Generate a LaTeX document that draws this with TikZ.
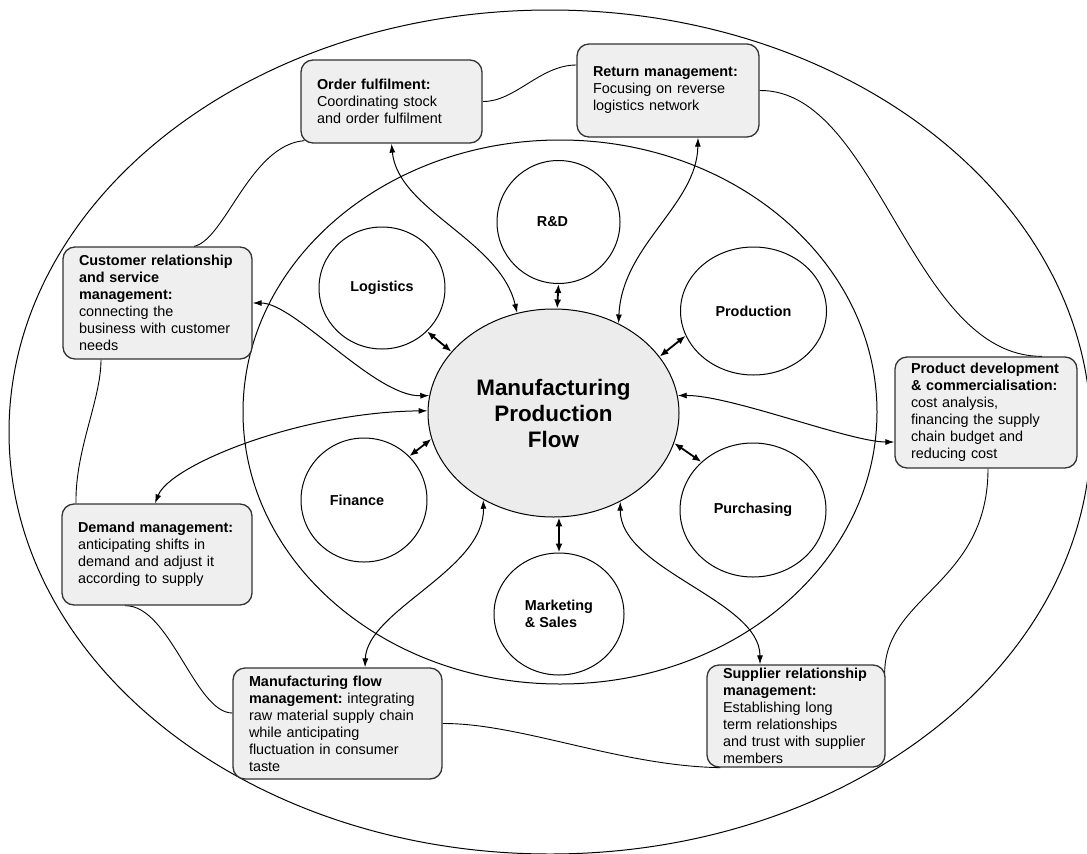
\documentclass[tikz,border=0pt]{standalone}
\usepackage{fontspec}
\setmainfont{Liberation Sans}
\usetikzlibrary{shapes.geometric,arrows.meta,backgrounds}

\definecolor{boxfill}{HTML}{EFEFEF}
\definecolor{hubfill}{HTML}{ECECEC}
\definecolor{edgegray}{HTML}{333333}

\begin{document}
\frenchspacing
\begin{tikzpicture}[x=1pt,y=-1pt,
  stage/.style={draw=edgegray, line width=1.3pt, fill=boxfill, rounded corners=12pt,
    align=left, inner xsep=16pt, inner ysep=0pt, anchor=center,
    font=\fontsize{14.4}{17}\selectfont},
  dept/.style={ellipse, draw, line width=1pt, fill=white, inner sep=0pt, align=left,
    font=\fontsize{14.4}{17}\selectfont\bfseries},
  hub/.style={ellipse, draw, line width=1pt, fill=hubfill, inner sep=0pt, align=center,
    font=\fontsize{22.4}{26}\selectfont\bfseries},
  ring/.style={line width=0.9pt},
  reach/.style={{Latex[length=9pt,width=6pt]}-{Latex[length=9pt,width=6pt]}, line width=1pt},
  spoke/.style={{Latex[length=9pt,width=7pt]}-{Latex[length=9pt,width=7pt]}, line width=1.8pt},
]
\useasboundingbox (0,0) rectangle (1087,854);
\clip (0,0) rectangle (1087,854);

% central hub
\node[hub, minimum width=251pt, minimum height=208pt] (mpf) at (553.5,413)
  {Manufacturing\\Production\\Flow};

% business functions
\node[dept, minimum width=123pt, minimum height=123pt] (rd) at (558.5,222) {R\&D\hspace*{12pt}};
\node[dept, minimum width=126pt, minimum height=122pt] (lg) at (382,288) {Logistics};
\node[dept, minimum width=146pt, minimum height=128pt] (pr) at (753.5,311) {Production};
\node[dept, minimum width=126pt, minimum height=124pt] (fi) at (364,500) {Finance\hspace*{14pt}};
\node[dept, minimum width=146pt, minimum height=134pt] (pu) at (753,510) {Purchasing};
\node[dept, minimum width=130pt, minimum height=122pt] (ms) at (559,614) {Marketing\\\& Sales};

% supply chain processes
\node[stage, text width=149pt, minimum height=83pt] (of) at (391.5,101.5)
  {\textbf{Order fulfilment:}\\Coordinating stock\\and order fulfilment};
\node[stage, text width=150pt, minimum height=93pt] (rm) at (668,90.5)
  {\textbf{Return management:}\\Focusing on reverse\\logistics network};
\node[stage, text width=157pt, minimum height=112pt] (crs) at (157.5,303)
  {\textbf{Customer relationship}\\\textbf{and service}\\\textbf{management:}\\connecting the\\business with customer\\needs};
\node[stage, text width=150pt, minimum height=111pt] (pdc) at (986,412.5)
  {\textbf{Product development}\\\textbf{\& commercialisation:}\\cost analysis,\\financing the supply\\chain budget and\\reducing cost};
\node[stage, text width=158pt, minimum height=101pt] (dm) at (157,554.5)
  {\textbf{Demand management:}\\anticipating shifts in\\demand and adjust it\\according to supply};
\node[stage, text width=177pt, minimum height=111pt] (mfm) at (337.5,723.5)
  {\textbf{Manufacturing flow}\\\textbf{management:} integrating\\raw material supply chain\\while anticipating\\fluctuation in consumer\\taste};
\node[stage, text width=146pt, minimum height=102pt] (srm) at (796,716)
  {\textbf{Supplier relationship}\\\textbf{management:}\\Establishing long\\term relationships\\and trust with supplier\\members};

\begin{pgfonlayer}{background}
  % outer and inner rings
  \draw[line width=1pt] (550,432) ellipse [x radius=541pt, y radius=422pt];
  \draw[line width=1pt] (560,412) ellipse [x radius=317pt, y radius=272pt];
  % links between neighbouring processes
  \draw[ring] (of.east) .. controls (515,102) and (540,65) .. ([yshift=25.5pt]rm.west);
  \draw[ring] (rm.east) .. controls (878,89) and (911,357) .. ([xshift=56pt]pdc.north);
  \draw[ring] ([xshift=2pt]pdc.south) .. controls (988,585) and (884,595) .. ([xshift=-1pt,yshift=-10pt]srm.north east);
  \draw[ring] (mfm.east) .. controls (520,723) and (620,766) .. ([xshift=14pt]srm.south west);
  \draw[ring] ([yshift=10.5pt]mfm.west) .. controls (195,713) and (170,605) .. ([xshift=-32pt]dm.south);
  \draw[ring] ([xshift=-81pt]dm.north) .. controls (75,450) and (101,400) .. ([xshift=-56.5pt]crs.south);
  \draw[ring] ([xshift=36.5pt]crs.north) .. controls (225,240) and (250,145) .. ([xshift=4pt,yshift=3pt]of.south west);
\end{pgfonlayer}

% processes to the hub
\draw[reach] (of.south) .. controls (398,210) and (500,240) .. (mpf.110);
\draw[reach] ([xshift=30pt]rm.south) .. controls (697,205) and (622,245) .. (mpf.54);
\draw[reach] (crs.east) .. controls (295,303) and (375,397) .. (mpf.172);
\draw[reach] ([xshift=-2pt]dm.north) .. controls (170,465) and (300,412) .. (mpf.179);
\draw[reach] ([yshift=-29.5pt]pdc.west) .. controls (850,442) and (730,395) .. (mpf.8);
\draw[reach] ([xshift=27.5pt]mfm.north) .. controls (367,610) and (485,570) .. (mpf.231);
\draw[reach] ([xshift=-36pt]srm.north) .. controls (760,600) and (620,570) .. (mpf.-53);

% functions to the hub
\draw[spoke] (lg.-44) -- (mpf.149);
\draw[spoke] (rd.south) -- (mpf.88);
\draw[spoke] (pr.200) -- (mpf.28);
\draw[spoke] (fi.44) -- (mpf.192);
\draw[spoke] (pu.137) -- (mpf.-14);
\draw[spoke] (ms.north) -- (mpf.-87);
\end{tikzpicture}
\end{document}
